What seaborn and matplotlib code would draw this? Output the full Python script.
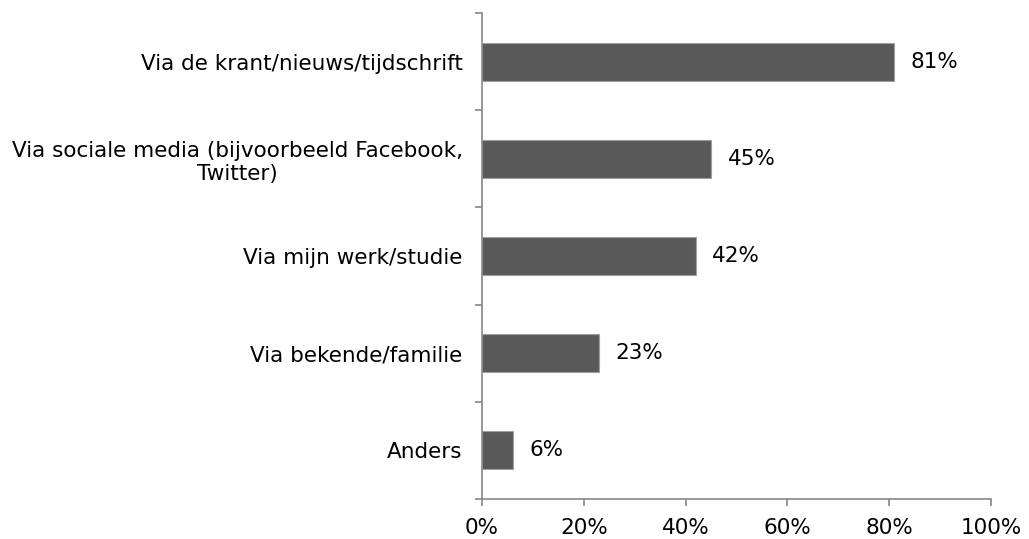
import matplotlib
matplotlib.use("Agg")
import matplotlib.pyplot as plt
import seaborn as sns
import pandas as pd
import numpy as np
from matplotlib.ticker import FixedLocator, PercentFormatter

categories = ["Via de krant/nieuws/tijdschrift",
              "Via sociale media (bijvoorbeeld Facebook,\nTwitter)",
              "Via mijn werk/studie",
              "Via bekende/familie",
              "Anders"]
values = [81, 45, 42, 23, 6]
x_ticks = [0, 20, 40, 60, 80, 100]

sns.set_theme(style="white")
plt.rcParams['font.family'] = ['DejaVu Sans']

df = pd.DataFrame({"cat": categories, "val": values})

fig = plt.figure(figsize=(10.29, 5.39), dpi=100)
ax = fig.add_axes([0.4684, 0.0742, 0.4946, 0.9017])

FS = 15.5
sns.barplot(data=df, x="val", y="cat", orient="h", color="#595959",
            width=0.39, edgecolor="#a0a0a0", linewidth=0.8, saturation=1, ax=ax)

ax.set_xlim(0, 100)
ax.set_ylim(len(categories) - 0.5, -0.5)
ax.set_xlabel("")
ax.set_ylabel("")

axis_col = "#868686"
for s in ["top", "right"]:
    ax.spines[s].set_visible(False)
for s in ["left", "bottom"]:
    ax.spines[s].set_color(axis_col)
    ax.spines[s].set_linewidth(1.2)

ax.xaxis.set_major_locator(FixedLocator(x_ticks))
ax.xaxis.set_major_formatter(PercentFormatter(decimals=0))
ax.tick_params(axis="x", which="major", direction="out", length=5, color=axis_col,
               width=1.2, labelsize=FS, pad=9, bottom=True)
ax.tick_params(axis="y", which="major", length=0, labelsize=FS, pad=14, left=True)
ax.yaxis.set_minor_locator(FixedLocator(np.arange(-0.5, len(categories), 1.0)))
ax.tick_params(axis="y", which="minor", direction="out", length=5, color=axis_col,
               width=1.2, left=True)
for lab in ax.get_yticklabels():
    lab.set_horizontalalignment("right")
    lab.set_multialignment("center")
    lab.set_color("black")
for lab in ax.get_xticklabels():
    lab.set_color("black")

for i, v in enumerate(values):
    ax.annotate(f"{v}%", xy=(v, i), xytext=(12, 0), textcoords="offset points",
                va="center", ha="left", fontsize=FS, color="black")

fig.savefig("out.png", dpi=100)
